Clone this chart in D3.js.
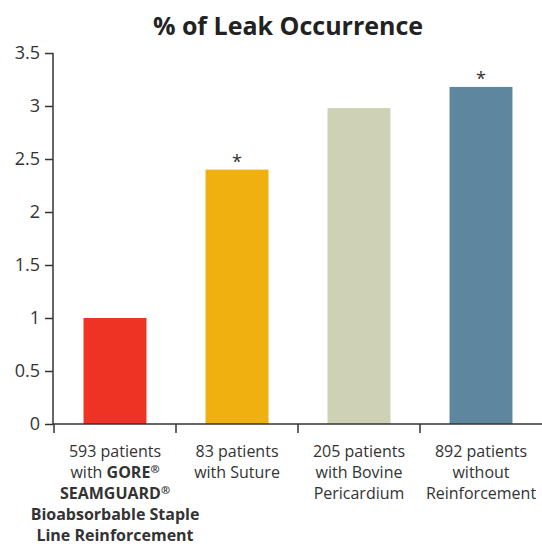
<!DOCTYPE html>
<html><head><meta charset="utf-8">
<script src="https://cdn.jsdelivr.net/npm/d3@7"></script>
<style>body{margin:0;background:#fff}svg{display:block}</style>
</head><body>
<script>
const categories = ["gore", "suture", "bovine", "none"];
const values = [1.0, 2.4, 2.98, 3.18];
const significant = [false, true, false, true];
const colors = ["#EE3224", "#F0B110", "#CED1B4", "#5E869F"];
const yTicks = [0, 0.5, 1, 1.5, 2, 2.5, 3, 3.5];
// segments: [text, bold, superscript]
const labelLines = [
  [[["593 patients", 0, 0]], [["with ", 0, 0], ["GORE", 1, 0], ["®", 1, 1]], [["SEAMGUARD", 1, 0], ["®", 1, 1]], [["Bioabsorbable Staple", 1, 0]], [["Line Reinforcement", 1, 0]]],
  [[["83 patients", 0, 0]], [["with Suture", 0, 0]]],
  [[["205 patients", 0, 0]], [["with Bovine", 0, 0]], [["Pericardium", 0, 0]]],
  [[["892 patients", 0, 0]], [["without", 0, 0]], [["Reinforcement", 0, 0]]]
];
const title = "% of Leak Occurrence";

const W = 542, H = 546;
const svg = d3.select("body").append("svg").attr("width", W).attr("height", H);
const font = "'Open Sans', sans-serif";
const ink = "#333";

const x = d3.scaleBand().domain(categories).range([54, 542]).paddingInner(0.484).paddingOuter(0.242);
const y = d3.scaleLinear().domain([0, 3.5]).range([424, 53]);

svg.append("text").attr("x", 288).attr("y", 35).attr("text-anchor", "middle")
  .attr("font-family", font).attr("font-weight", 700).attr("font-size", 25)
  .attr("fill", "#222").text(title);

// bars
svg.selectAll("rect.bar").data(categories).join("rect")
  .attr("x", d => x(d)).attr("width", x.bandwidth())
  .attr("y", (d, i) => y(values[i])).attr("height", (d, i) => y(0) - y(values[i]))
  .attr("fill", (d, i) => colors[i]);

svg.selectAll("text.star").data(categories.filter((d, i) => significant[i])).join("text")
  .attr("x", d => x(d) + x.bandwidth() / 2)
  .attr("y", d => y(values[categories.indexOf(d)]) - 2)
  .attr("text-anchor", "middle").attr("font-family", font).attr("font-size", 18)
  .attr("fill", ink).text("*");

// y axis
const ya = svg.append("g").attr("transform", "translate(53,0)")
  .call(d3.axisLeft(y).tickValues(yTicks).tickFormat(d3.format("")).tickSize(8).tickPadding(5));
ya.select(".domain").attr("stroke", ink).attr("stroke-width", 1.5).attr("d", "M0,53V424");
ya.selectAll(".tick line").attr("stroke", ink).attr("stroke-width", 1.5);
ya.selectAll(".tick text").attr("font-family", font).attr("font-size", 18).attr("fill", ink);

// x axis
svg.append("line").attr("x1", 53).attr("x2", 542).attr("y1", 424).attr("y2", 424)
  .attr("stroke", ink).attr("stroke-width", 1.5);
const step = x.step();
svg.selectAll("line.xt").data(categories).join("line")
  .attr("x1", d => x(d) + x.bandwidth() / 2 - step / 2)
  .attr("x2", d => x(d) + x.bandwidth() / 2 - step / 2)
  .attr("y1", 424).attr("y2", 433).attr("stroke", ink).attr("stroke-width", 1.5);

categories.forEach((c, i) => {
  const cx = x(c) + x.bandwidth() / 2;
  labelLines[i].forEach((line, j) => {
    const t = svg.append("text").attr("x", cx).attr("y", 457 + j * 21)
      .attr("text-anchor", "middle").attr("font-family", font).attr("font-size", 16).attr("fill", ink);
    line.forEach(([s, b, sup]) => {
      const ts = t.append("tspan").attr("font-weight", b ? 700 : 400).text(s);
      if (sup) ts.attr("font-size", 11).attr("dy", -5);
    });
  });
});
</script>
</body></html>
